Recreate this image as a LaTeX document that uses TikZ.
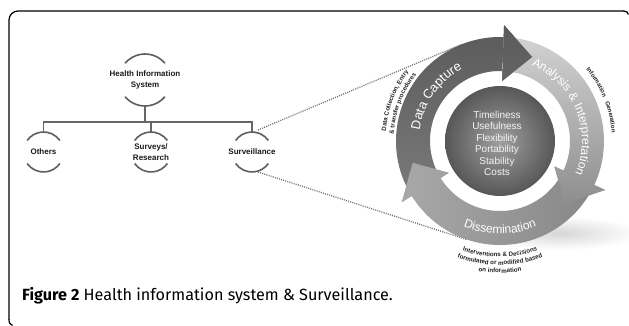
\documentclass[tikz,border=0pt]{standalone}
\usepackage{fontspec}
\setmainfont{Liberation Sans}
\newfontfamily\capfont{Fira Sans}
\usetikzlibrary{decorations.text}
\definecolor{arcgray}{HTML}{5E5E5E}
\definecolor{conngray}{HTML}{666666}
\definecolor{dotgray}{HTML}{707070}
\definecolor{labelblack}{HTML}{1A1A1A}
\definecolor{dcTop}{HTML}{5A5A5A}
\definecolor{dcBot}{HTML}{7A7A7A}
\definecolor{aiTop}{HTML}{D2D2D2}
\definecolor{aiBot}{HTML}{8E8E8E}
\definecolor{dsLeft}{HTML}{A8A8A8}
\definecolor{dsRight}{HTML}{878787}
\definecolor{sphIn}{HTML}{A0A0A0}
\definecolor{sphOut}{HTML}{575757}
\definecolor{sphText}{HTML}{F4F4F4}
\definecolor{outText}{HTML}{222222}
\begin{document}
\begin{tikzpicture}[x=1pt,y=1pt,
  arcline/.style={draw=arcgray, line width=1.6pt},
  conn/.style={draw=conngray, line width=1.8pt},
  dotline/.style={draw=dotgray, line width=1.3pt, dash pattern=on 1pt off 1.2pt},
  treelabel/.style={font=\fontsize{8}{11.5}\selectfont\bfseries, text=labelblack, align=center, inner sep=0pt},
  frameline/.style={draw=black, line width=1.2pt},
  dcshade/.style={top color=dcTop, bottom color=dcBot},
  aishade/.style={top color=aiTop, bottom color=aiBot},
  dsshade/.style={left color=dsLeft, right color=dsRight},
  ringtext/.style={decorate, decoration={text along path, text align=center, text={#1}}}
]
\useasboundingbox (0,0) rectangle (629,326);

% frame
\draw[frameline, rounded corners=9pt] (9,6) -- (9,315) -- (624,315);
\draw[frameline] (9,6.5) .. controls (9,3) and (10,1.5) .. (12.5,0.5);
\draw[frameline] (623.5,315) .. controls (626.5,315) and (627.5,314) .. (628.5,311.5);

% tree
\node[treelabel] (his) at (145,246) {Health Information\\System};
\node[treelabel] (oth) at (43.5,174) {Others};
\node[treelabel] (sur) at (151,174) {Surveys/\\Research};
\node[treelabel] (svl) at (252,174) {Surveillance};

\draw[arcline] ([shift={(40:26)}]his.center) arc[start angle=40,end angle=140,radius=26];
\draw[arcline] ([shift={(220:26)}]his.center) arc[start angle=220,end angle=320,radius=26];
\foreach \n in {oth,sur,svl}{
  \draw[arcline] ([shift={(35:20)}]\n.center) arc[start angle=35,end angle=145,radius=20];
  \draw[arcline] ([shift={(215:20)}]\n.center) arc[start angle=215,end angle=325,radius=20];
}
\coordinate (jH) at (145,204);
\coordinate (jO) at (43.5,204);
\coordinate (jS) at (151,204);
\coordinate (jV) at (252,204);
\draw[conn] ([yshift=-26pt]his.center) -- (jH);
\draw[conn] ([yshift=20pt]oth.center) -- (jO) -- (jV) -- ([yshift=20pt]svl.center);
\draw[conn] (jS) -- ([yshift=20pt]sur.center);

% ring anchor points
\begin{scope}[shift={(500,185)}]
  \coordinate (topEnd) at (111:104);
  \coordinate (botEnd) at (-109:104);
\end{scope}
\draw[dotline] ([shift={(6pt,22pt)}]svl.center) -- (topEnd);
\draw[dotline] ([shift={(6pt,-20pt)}]svl.center) -- (botEnd);

% shadow
\shade[inner color=black!16, outer color=white] (560,93) ellipse [x radius=80, y radius=17];

\begin{scope}[shift={(500,185)}]
  \def\pDC{(212:104) arc[start angle=212,end angle=88,radius=104] -- (88:116) -- (69:90) -- (88:60) -- (88:70) arc[start angle=88,end angle=212,radius=70] -- cycle}
  \def\pAI{(88:104) arc[start angle=88,end angle=-25,radius=104] -- (-25:116) -- (-44:90) -- (-25:60) -- (-25:70) arc[start angle=-25,end angle=88,radius=70] -- cycle}
  \def\pDS{(-25:104) arc[start angle=-25,end angle=-148,radius=104] -- (-148:116) -- (-166:90) -- (-148:60) -- (-148:70) arc[start angle=-148,end angle=-25,radius=70] -- cycle}
  \shade[dcshade] \pDC;
  \shade[aishade] \pAI;
  \shade[dsshade] \pDS;
  \begin{scope}
    \clip (88:116) -- (69:90) -- (88:60) -- cycle;
    \shade[dcshade] \pDC;
  \end{scope}
  \begin{scope}
    \clip (-25:116) -- (-44:90) -- (-25:60) -- cycle;
    \shade[aishade] \pAI;
  \end{scope}
  % sphere
  \shade[inner color=sphIn, outer color=sphOut] (0,0) circle[radius=55];
  \node[font=\fontsize{10}{11.5}\selectfont, text=sphText, align=center, inner sep=0pt] (crit) at (-3,-2.5)
    {Timeliness\\Usefulness\\Flexibility\\Portability\\Stability\\Costs};
  % ring labels
  \path[ringtext={|\fontsize{13}{13}\selectfont\color{white}|Data Capture}]
    (195:81) arc[start angle=195,end angle=95,radius=81];
  \path[ringtext={|\fontsize{12}{12}\selectfont\color{white}|Analysis {\&} Interpretation}]
    (82:82) arc[start angle=82,end angle=-38,radius=82];
  \path[ringtext={|\fontsize{12}{12}\selectfont\color{white}|Dissemination}]
    (-125:93) arc[start angle=-125,end angle=-55,radius=93];
  % outer labels
  \path[ringtext={|\fontsize{6.2}{6.2}\selectfont\bfseries\color{outText}|Data Collection, Entry}]
    (200:114.5) arc[start angle=200,end angle=118,radius=114.5];
  \path[ringtext={|\fontsize{6.2}{6.2}\selectfont\bfseries\color{outText}|{\&} transfer procedures}]
    (200:106.5) arc[start angle=200,end angle=118,radius=106.5];
  \path[ringtext={|\fontsize{6}{6}\selectfont\bfseries\color{outText}|Information{\hskip5pt}Generation}]
    (62:112) arc[start angle=62,end angle=-18,radius=112];
  \path[ringtext={|\fontsize{6.2}{6.2}\selectfont\bfseries\color{outText}|Interventions {\&} Decisions}]
    (-135:116) arc[start angle=-135,end angle=-45,radius=116];
  \path[ringtext={|\fontsize{6.2}{6.2}\selectfont\bfseries\color{outText}|formulated or modified based}]
    (-135:124) arc[start angle=-135,end angle=-45,radius=124];
  \path[ringtext={|\fontsize{6.2}{6.2}\selectfont\bfseries\color{outText}|on information}]
    (-120:132) arc[start angle=-120,end angle=-60,radius=132];
\end{scope}

% caption
\node[anchor=base west, inner sep=0pt, font=\capfont\fontsize{16.2}{16.2}\selectfont, text=black] (cap) at (22,25)
  {\textbf{Figure 2} Health information system \& Surveillance.};
\end{tikzpicture}
\end{document}
